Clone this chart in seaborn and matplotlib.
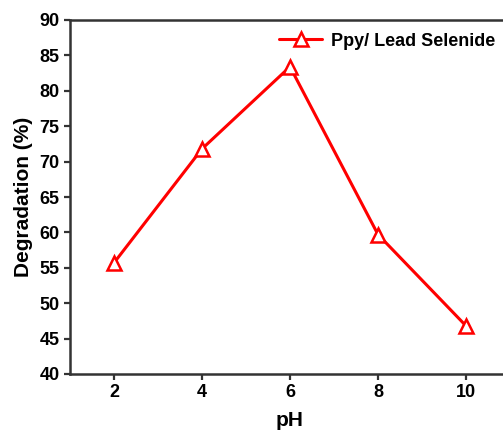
import matplotlib
matplotlib.use("Agg")
import matplotlib.pyplot as plt
import seaborn as sns
import pandas as pd

ph = [2, 4, 6, 8, 10]
degradation = [55.7, 71.8, 83.4, 59.7, 46.8]
series_label = "Ppy/ Lead Selenide"
x_ticks = [2, 4, 6, 8, 10]
y_ticks = [40, 45, 50, 55, 60, 65, 70, 75, 80, 85, 90]

sns.set_theme(style="ticks")
plt.rcParams['font.family'] = ['Liberation Sans', 'DejaVu Sans']
plt.rcParams['font.weight'] = 'bold'
plt.rcParams['text.color'] = 'black'
plt.rcParams['axes.labelcolor'] = 'black'
plt.rcParams['xtick.color'] = 'black'
plt.rcParams['ytick.color'] = 'black'

df = pd.DataFrame({"pH": ph, "Degradation": degradation})

fig = plt.figure(figsize=(5.03, 4.41), dpi=100)
ax = fig.add_axes([70/503, 67/441, 440/503, 354/441])

sns.lineplot(data=df, x="pH", y="Degradation", ax=ax, color="#ff0000",
             linewidth=2.2, marker="^", markersize=10, markerfacecolor="white",
             markeredgecolor="#ff0000", markeredgewidth=1.8, label=series_label)

ax.set_xlim(1, 11)
ax.set_ylim(40, 90)
ax.set_xticks(x_ticks)
ax.set_yticks(y_ticks)
ax.tick_params(axis="both", labelsize=13, width=1.6, length=4, color="#333333",
               labelcolor="black", direction="out")
for lab in ax.get_xticklabels() + ax.get_yticklabels():
    lab.set_fontweight("bold")
for s in ax.spines.values():
    s.set_linewidth(1.8)
    s.set_color("#333333")
ax.set_xlabel("pH", fontsize=15, fontweight="bold", labelpad=7, color="black")
ax.set_ylabel("Degradation (%)", fontsize=15, fontweight="bold", labelpad=5, color="black")

leg = ax.legend(loc="upper left", bbox_to_anchor=(0.438, 1.01), frameon=False,
                prop={"size": 13, "weight": "bold"}, handlelength=2.4,
                handletextpad=0.5)
for t in leg.get_texts():
    t.set_color("black")

fig.savefig("out.png", dpi=100)
